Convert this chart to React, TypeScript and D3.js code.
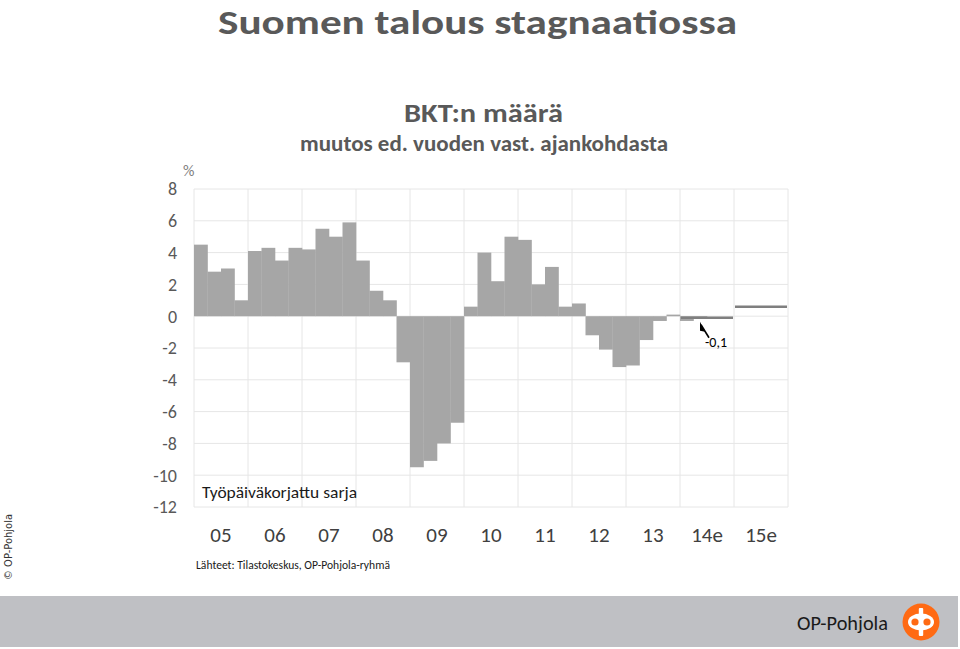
import * as d3 from 'd3'
import { FC, useEffect, useRef } from 'react'

// vuodet (x-akselin luokat)
const years = ['05', '06', '07', '08', '09', '10', '11', '12', '13', '14e', '15e']
// BKT:n määrä, neljännesvuosimuutos %, 2005Q1 ->
const quarterly = [
  4.5, 2.8, 3.0, 1.0,
  4.1, 4.3, 3.5, 4.3,
  4.2, 5.5, 5.0, 5.9,
  3.5, 1.6, 1.0, -2.9,
  -9.5, -9.1, -8.0, -6.7,
  0.6, 4.0, 2.2, 5.0,
  4.8, 2.0, 3.1, 0.6,
  0.8, -1.2, -2.1, -3.2,
  -3.1, -1.5, -0.3, 0.1,
  -0.3, -0.1,
]
// ennusteet (vuositaso)
const forecastYears = ['14e', '15e']
const forecastValues = [-0.1, 0.6]
const yTicks = [8, 6, 4, 2, 0, -2, -4, -6, -8, -10, -12]

const W = 960
const H = 649
const FONT = "Carlito, Calibri, Lato, 'Open Sans', sans-serif"

const App: FC = () => {
  const ref = useRef<SVGSVGElement>(null)
  useEffect(() => {
    draw()
  }, [])
  const draw = () => {
    const svg = d3.select(ref.current)
    svg.selectAll('*').remove()
    const plot = { left: 194, right: 788, top: 189, bottom: 507 }

    const xBand = d3.scaleBand().domain(years).range([plot.left, plot.right])
    const xQ = d3.scaleLinear().domain([0, years.length * 4]).range([plot.left, plot.right])
    const y = d3.scaleLinear().domain([-12, 8]).range([plot.bottom, plot.top])

    // otsikot
    svg.append('text').attr('x', 218).attr('y', 34).attr('textLength', 519).attr('lengthAdjust', 'spacingAndGlyphs')
      .attr('font-family', FONT).attr('font-weight', 700).attr('font-size', 35).attr('fill', '#595959')
      .text('Suomen talous stagnaatiossa')
    svg.append('text').attr('x', 404).attr('y', 122).attr('textLength', 159).attr('lengthAdjust', 'spacingAndGlyphs')
      .attr('font-family', FONT).attr('font-weight', 700).attr('font-size', 27).attr('fill', '#595959')
      .text('BKT:n määrä')
    svg.append('text').attr('x', 300).attr('y', 151).attr('textLength', 368).attr('lengthAdjust', 'spacingAndGlyphs')
      .attr('font-family', FONT).attr('font-weight', 600).attr('font-size', 22).attr('fill', '#595959')
      .text('muutos ed. vuoden vast. ajankohdasta')
    svg.append('text').attr('x', 183).attr('y', 176)
      .attr('font-family', FONT).attr('font-size', 16).attr('fill', '#7f7f7f').text('%')

    // ruudukko
    const grid = svg.append('g').attr('stroke', '#e6e6e6').attr('stroke-width', 1)
    yTicks.forEach(t => {
      grid.append('line').attr('x1', plot.left).attr('x2', plot.right).attr('y1', y(t)).attr('y2', y(t))
    })
    years.forEach(yr => {
      const x0 = xBand(yr) as number
      grid.append('line').attr('x1', x0).attr('x2', x0).attr('y1', plot.top).attr('y2', plot.bottom)
    })
    grid.append('line').attr('x1', plot.right).attr('x2', plot.right).attr('y1', plot.top).attr('y2', plot.bottom)

    // pylväät
    svg.append('g').selectAll('rect').data(quarterly).enter().append('rect')
      .attr('x', (d, i) => xQ(i))
      .attr('width', (d, i) => xQ(i + 1) - xQ(i) + 0.3)
      .attr('y', d => y(Math.max(0, d)))
      .attr('height', d => Math.abs(y(d) - y(0)))
      .attr('fill', '#a6a6a6')

    // ennusteviivat
    svg.append('g').selectAll('line').data(forecastValues).enter().append('line')
      .attr('x1', (d, i) => (xBand(forecastYears[i]) as number) + 1)
      .attr('x2', (d, i) => (xBand(forecastYears[i]) as number) + xBand.bandwidth() - 1)
      .attr('y1', d => y(d)).attr('y2', d => y(d))
      .attr('stroke', '#7f7f7f').attr('stroke-width', 2.5)

    // y-akselin tekstit
    svg.append('g').selectAll('text').data(yTicks).enter().append('text')
      .attr('x', 177).attr('y', d => y(d)).attr('dy', '0.35em').attr('text-anchor', 'end')
      .attr('font-family', FONT).attr('font-size', 18).attr('fill', '#595959')
      .text(d => d)

    // x-akselin tekstit
    svg.append('g').selectAll('text').data(years).enter().append('text')
      .attr('x', d => (xBand(d) as number) + xBand.bandwidth() / 2).attr('y', 542).attr('text-anchor', 'middle')
      .attr('font-family', FONT).attr('font-size', 21).attr('fill', '#404040')
      .text(d => d)

    // nuoli ja arvo -0,1
    const ax = (xBand('14e') as number) + 21
    const ay = y(forecastValues[0]) + 4
    svg.append('line').attr('x1', ax).attr('y1', ay + 3).attr('x2', ax + 8).attr('y2', ay + 16)
      .attr('stroke', '#000').attr('stroke-width', 1.6)
    svg.append('path').attr('d', `M${ax - 1},${ay} L${ax + 4},${ay + 10} L${ax - 1},${ay + 9} Z`).attr('fill', '#000')
    svg.append('text').attr('x', ax + 4).attr('y', ay + 25)
      .attr('font-family', FONT).attr('font-size', 14).attr('fill', '#000').text('-0,1')

    svg.append('text').attr('x', 202).attr('y', 498).attr('textLength', 155).attr('lengthAdjust', 'spacingAndGlyphs')
      .attr('font-family', FONT).attr('font-size', 16).attr('fill', '#1a1a1a').text('Työpäiväkorjattu sarja')
    svg.append('text').attr('x', 196).attr('y', 569).attr('textLength', 194).attr('lengthAdjust', 'spacingAndGlyphs')
      .attr('font-family', FONT).attr('font-size', 11.5).attr('fill', '#1a1a1a').text('Lähteet: Tilastokeskus, OP-Pohjola-ryhmä')

    // copyright
    svg.append('text').attr('transform', 'translate(12,580) rotate(-90)')
      .attr('font-family', "'DejaVu Sans', sans-serif").attr('font-size', 11).attr('fill', '#333')
      .attr('textLength', 66).attr('lengthAdjust', 'spacingAndGlyphs').text('© OP-Pohjola')

    // alapalkki
    svg.append('rect').attr('x', 0).attr('y', 596).attr('width', 958).attr('height', 51).attr('fill', '#bfc0c4')
    svg.append('text').attr('x', 797).attr('y', 630).attr('textLength', 91).attr('lengthAdjust', 'spacingAndGlyphs')
      .attr('font-family', FONT).attr('font-size', 21).attr('fill', '#1a1a1a').text('OP-Pohjola')
    const logo = svg.append('g').attr('transform', 'translate(921,622)')
    logo.append('circle').attr('r', 18.5).attr('fill', '#ff6a13')
    logo.append('ellipse').attr('rx', 13).attr('ry', 8.5).attr('fill', '#fff')
    logo.append('rect').attr('x', -2.2).attr('y', -14).attr('width', 4.4).attr('height', 28).attr('rx', 1).attr('fill', '#fff')
    logo.append('circle').attr('cx', -6).attr('r', 3.6).attr('fill', '#ff6a13')
    logo.append('circle').attr('cx', 6).attr('r', 3.6).attr('fill', '#ff6a13')
  }
  return (
    <svg ref={ref} width={W} height={H} style={{ position: 'absolute', left: 0, top: 0, background: '#fff' }} />
  )
}
export default App
